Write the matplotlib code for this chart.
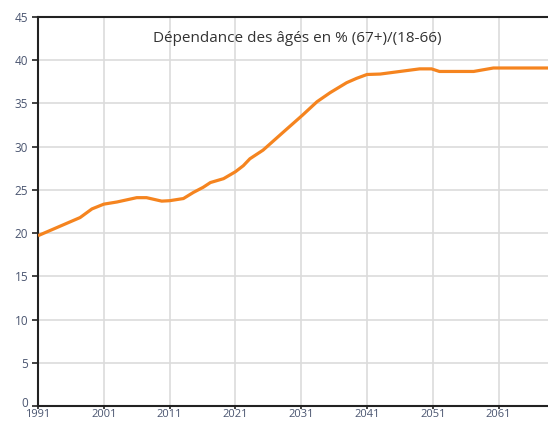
import matplotlib
matplotlib.use("Agg")
import matplotlib.pyplot as plt
from matplotlib.transforms import ScaledTranslation

years = [1991, 1997.4, 1999.2, 2001, 2003, 2006, 2007.5, 2009.8, 2011, 2013.1,
         2014.6, 2016.1, 2017.2, 2019.2, 2021, 2022.2, 2023.2, 2025.2, 2028.3,
         2031.2, 2033.4, 2035.4, 2037.9, 2039.4, 2041, 2043, 2045, 2047, 2049,
         2050.8, 2052, 2057.2, 2060.2, 2069]
values = [19.7, 21.8, 22.8, 23.35, 23.6, 24.1, 24.1, 23.7, 23.75, 24.0,
          24.7, 25.3, 25.85, 26.3, 27.1, 27.8, 28.6, 29.6, 31.7,
          33.65, 35.2, 36.25, 37.4, 37.9, 38.35, 38.4, 38.6, 38.8, 39.0,
          39.0, 38.7, 38.7, 39.1, 39.1]
xticks = [1991, 2001, 2011, 2021, 2031, 2041, 2051, 2061]
yticks = [0, 5, 10, 15, 20, 25, 30, 35, 40, 45]
title = "Dépendance des âgés en % (67+)/(18-66)"

plt.rcParams['font.family'] = ['Open Sans', 'DejaVu Sans']
fig = plt.figure(figsize=(5.48, 4.23), dpi=100)
ax = fig.add_axes([38/548, 17/423, 1 - 38/548, 1 - 34/423])
ax.plot(years, values, color='#F5841F', lw=2.3, solid_capstyle='butt', zorder=3)
ax.set_xlim(1991, 2068.5)
ax.set_ylim(0, 45)
ax.set_xticks(xticks)
ax.set_yticks(yticks)
ax.grid(True, color='#dcdcdc', lw=1.2)
ax.set_axisbelow(True)
for s in ['left', 'bottom', 'top']:
    ax.spines[s].set_color('#222222')
    ax.spines[s].set_linewidth(1.5)
ax.spines['right'].set_visible(False)
ax.tick_params(axis='y', direction='out', length=4, width=1.2, color='#222222',
               labelsize=8.5, labelcolor='#4a5570', pad=3)
ax.tick_params(axis='x', direction='out', length=2.5, width=1.2, color='#222222',
               labelsize=8, labelcolor='#4a5570', pad=0)
zero_label = ax.get_yticklabels()[0]
zero_label.set_transform(zero_label.get_transform() +
                         ScaledTranslation(0, 4/100, fig.dpi_scale_trans))
ax.text(0.509, 0.945, title, transform=ax.transAxes, ha='center', va='center',
        fontsize=11, color='#333333', fontweight='medium')
fig.savefig("out.png", dpi=100)
